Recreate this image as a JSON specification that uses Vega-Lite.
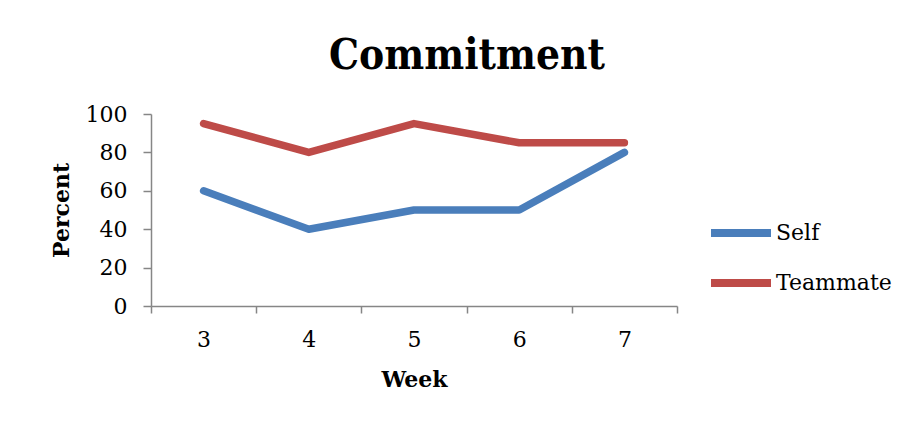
{
  "$schema": "https://vega.github.io/schema/vega-lite/v6.json",
  "width": 526,
  "height": 192,
  "autosize": {"type": "none"},
  "padding": {"left": 151, "top": 114, "right": 234, "bottom": 117},
  "background": "white",
  "title": {
    "text": "Commitment",
    "font": "DejaVu Serif Condensed",
    "fontSize": 42,
    "fontWeight": "bold",
    "color": "black",
    "anchor": "middle",
    "dx": 53,
    "offset": 25
  },
  "data": {
    "values": [
      {"week": "3", "series": "Self", "percent": 60},
      {"week": "4", "series": "Self", "percent": 40},
      {"week": "5", "series": "Self", "percent": 50},
      {"week": "6", "series": "Self", "percent": 50},
      {"week": "7", "series": "Self", "percent": 80},
      {"week": "3", "series": "Teammate", "percent": 95},
      {"week": "4", "series": "Teammate", "percent": 80},
      {"week": "5", "series": "Teammate", "percent": 95},
      {"week": "6", "series": "Teammate", "percent": 85},
      {"week": "7", "series": "Teammate", "percent": 85}
    ]
  },
  "mark": {"type": "line", "strokeWidth": 7.5, "strokeCap": "round", "strokeJoin": "round"},
  "encoding": {
    "x": {
      "field": "week",
      "type": "ordinal",
      "title": "Week",
      "scale": {"type": "band", "paddingInner": 0, "paddingOuter": 0},
      "axis": {
        "labelAngle": 0,
        "tickBand": "extent",
        "tickSize": 7,
        "labelPadding": 16,
        "titlePadding": 19
      }
    },
    "y": {
      "field": "percent",
      "type": "quantitative",
      "title": "Percent",
      "scale": {"domain": [0, 100], "nice": false},
      "axis": {"values": [0, 20, 40, 60, 80, 100], "tickSize": 8, "labelPadding": 16, "titlePadding": 12, "grid": false}
    },
    "color": {
      "field": "series",
      "type": "nominal",
      "title": null,
      "scale": {"domain": ["Self", "Teammate"], "range": ["#4a7ebb", "#be4b48"]},
      "legend": {
        "orient": "none",
        "legendX": 556,
        "legendY": 85,
        "symbolType": "stroke",
        "symbolSize": 3600,
        "symbolStrokeWidth": 8,
        "rowPadding": -18,
        "labelOffset": 1,
        "labelFont": "DejaVu Serif",
        "labelFontSize": 22,
        "labelColor": "black"
      }
    }
  },
  "config": {
    "view": {"stroke": null},
    "axis": {
      "domainColor": "#868686",
      "tickColor": "#868686",
      "domainWidth": 1.5,
      "tickWidth": 1.5,
      "labelFont": "DejaVu Serif",
      "labelFontSize": 22,
      "labelColor": "black",
      "titleFont": "DejaVu Serif",
      "titleFontSize": 22,
      "titleFontWeight": "bold",
      "titleColor": "black"
    }
  }
}
